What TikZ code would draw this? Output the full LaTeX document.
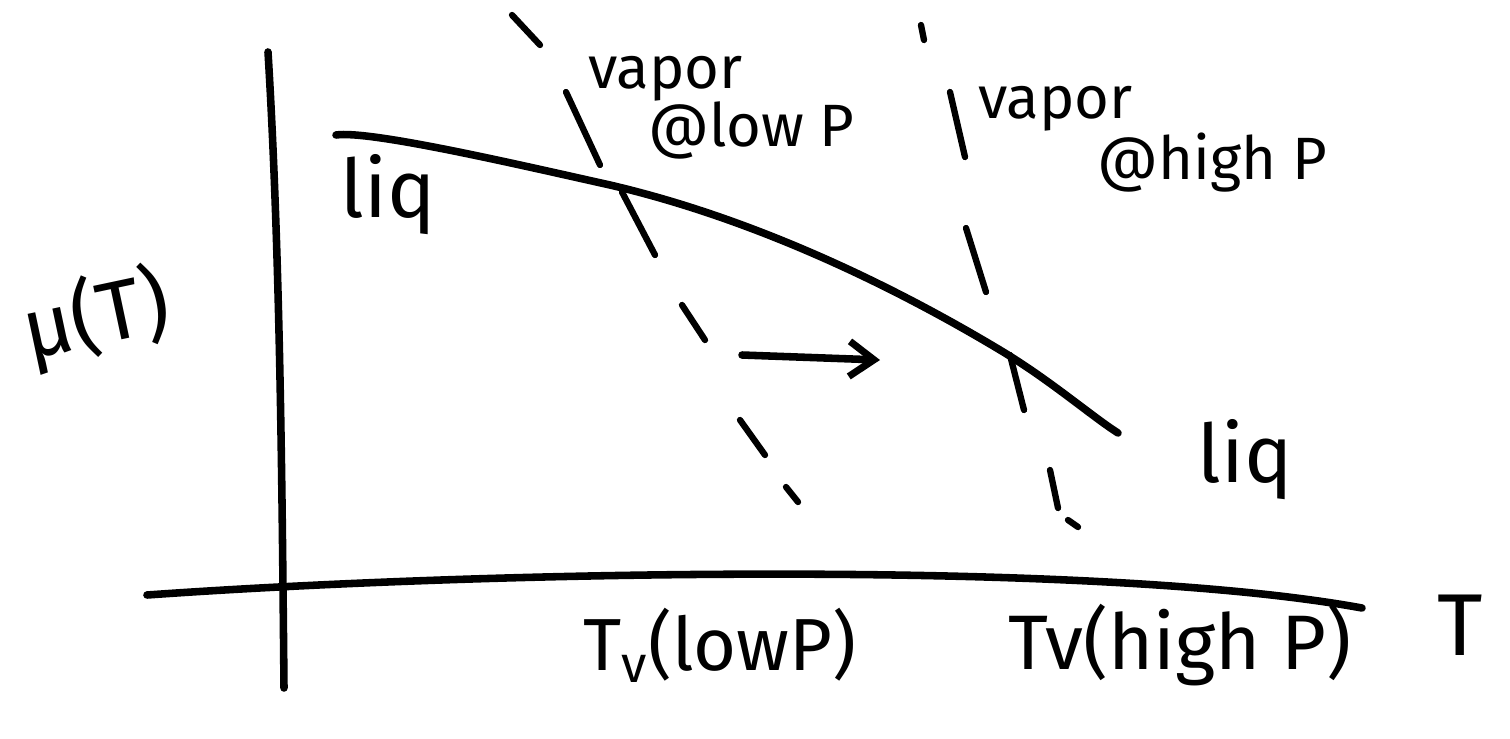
\documentclass[tikz,border=0pt]{standalone}
\usepackage{fontspec}
\setmainfont{Fira Sans}
\usetikzlibrary{arrows.meta}
\begin{document}
\begin{tikzpicture}[x=0.02cm,y=-0.02cm,
  pen/.style={line width=4.3pt,line cap=round,line join=round,black},
  dashpen/.style={line width=3.6pt,line cap=round,black},
  lbl/.style={inner sep=0pt,font=\fontsize{46}{50}\selectfont},
  vlbl/.style={inner sep=0pt,align=left,anchor=north west,font=\fontsize{34}{33}\selectfont},
  big/.style={inner sep=0pt,font=\fontsize{42}{46}\selectfont}]
\useasboundingbox (0,0) rectangle (1510,738);

% axes
\coordinate (yTop) at (268,52);
\coordinate (yBot) at (284,688);
\coordinate (xL) at (147,595);
\coordinate (xR) at (1362,608);
\draw[pen] (yTop) .. controls (280,250) and (282,480) .. (yBot);
\draw[pen] (xL) .. controls (500,570) and (1100,560) .. (xR);

% chemical potential of the liquid
\coordinate (liqA) at (336,135);
\coordinate (liqB) at (610,185);
\coordinate (liqC) at (1000,350);
\coordinate (liqD) at (1118,433);
\draw[pen] (liqA) .. controls (370,130) and (520,165) .. (liqB)
  .. controls (760,220) and (900,290) .. (liqC)
  .. controls (1050,380) and (1090,415) .. (liqD);

% vapor line at low pressure (hand-dashed)
\draw[dashpen] (512,15) -- (540,45);
\draw[dashpen] (566,92) -- (600,165);
\draw[dashpen] (622,192) -- (655,255);
\draw[dashpen] (682,305) -- (705,340);
\draw[dashpen] (740,420) -- (765,455);
\draw[dashpen] (786,487) -- (798,502);

% vapor line at high pressure (hand-dashed)
\draw[dashpen] (921,25) -- (924,40);
\draw[dashpen] (950,92) -- (965,157);
\draw[dashpen] (966,228) -- (986,292);
\draw[dashpen] (1010,355) -- (1024,410);
\draw[dashpen] (1050,470) -- (1058,508);
\draw[dashpen] (1068,520) -- (1078,527);

% shift arrow
\coordinate (arS) at (742,355);
\coordinate (arE) at (880,360);
\draw[pen,-{Straight Barb[length=14pt,width=20pt,line width=4pt]}] (arS) -- (arE);

% labels
\node[big,font=\fontsize{48}{52}\selectfont] (mu) at (96,318) [rotate=12] {μ(T)};
\node[big,font=\fontsize{50}{54}\selectfont] (T) at (1460,625) {T};
\node[lbl] (liq1) at (388,195) {liq};
\node[lbl] (liq2) at (1245,460) {liq};
\node[vlbl] (vlow) at (588,56) {vapor\\\hspace*{1.0em}@low P};
\node[vlbl] (vhigh) at (978,86) {vapor\\\hspace*{2.0em}@high P};
\node[big] (tlow) at (720,645) {T\textsubscript{v}(lowP)};
\node[big,font=\fontsize{44}{48}\selectfont] (thigh) at (1180,645) {Tv(high P)};
\end{tikzpicture}
\end{document}
